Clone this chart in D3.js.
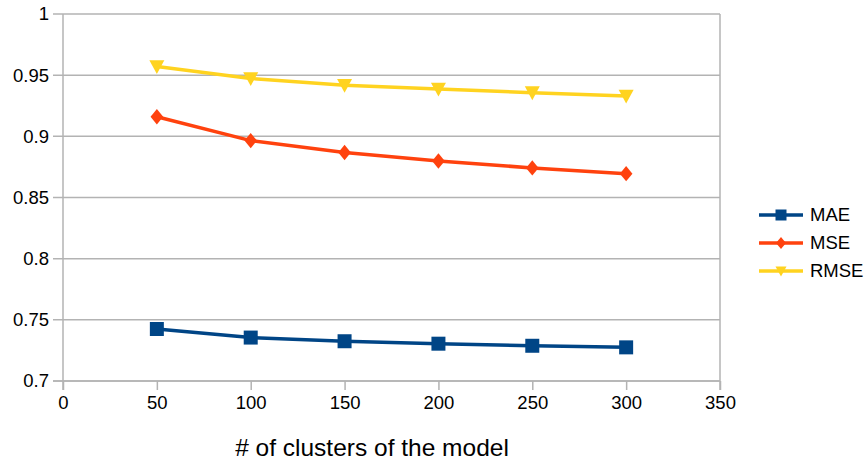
<!DOCTYPE html>
<html>
<head>
<meta charset="utf-8">
<script src="https://cdn.jsdelivr.net/npm/d3@7"></script>
<style>
  html, body { margin: 0; padding: 0; background: #fff; }
  svg text { font-family: "Liberation Sans", Arial, sans-serif; fill: #000; }
</style>
</head>
<body>
<svg id="chart" width="866" height="461"></svg>
<script>
const clusters = [50, 100, 150, 200, 250, 300];
const mae  = [0.7425, 0.7355, 0.7325, 0.7305, 0.7288, 0.7275];
const mse  = [0.9160, 0.8965, 0.8868, 0.8798, 0.8742, 0.8695];
const rmse = [0.9570, 0.9473, 0.9418, 0.9386, 0.9357, 0.9330];
const seriesNames = ["MAE", "MSE", "RMSE"];
const seriesColors = ["#004586", "#ff420e", "#ffd320"];
const seriesShapes = ["square", "diamond", "triangle"];
const xTicks = [0, 50, 100, 150, 200, 250, 300, 350];
const yTicks = [0.7, 0.75, 0.8, 0.85, 0.9, 0.95, 1];
const xTitle = "# of clusters of the model";

const svg = d3.select("#chart");
const x = d3.scaleLinear().domain([0, 350]).range([63, 720]);
const y = d3.scaleLinear().domain([0.7, 1]).range([381, 14]);
const grid = "#b3b3b3";

// horizontal gridlines
svg.append("g").selectAll("line").data(yTicks).join("line")
  .attr("x1", x(0) - 10).attr("x2", x(350))
  .attr("y1", d => y(d)).attr("y2", d => y(d))
  .attr("stroke", grid).attr("stroke-width", 1.5);

// y axis
const yAxis = d3.axisLeft(y).tickValues(yTicks).tickSize(0).tickPadding(14)
  .tickFormat(d => d3.format("~g")(d));
const gy = svg.append("g").attr("transform", `translate(${x(0)},0)`).call(yAxis);
gy.select(".domain").remove();
gy.selectAll("text").attr("font-size", 18.5).attr("fill", "#000")
  .attr("font-family", "Liberation Sans, Arial, sans-serif");

// x axis
const xAxis = d3.axisBottom(x).tickValues(xTicks).tickSize(9).tickPadding(6);
const gx = svg.append("g").attr("transform", `translate(0,${y(0.7)})`).call(xAxis);
gx.select(".domain").remove();
gx.selectAll(".tick line").attr("stroke", grid).attr("stroke-width", 1.5);
gx.selectAll("text").attr("font-size", 18.5).attr("fill", "#000")
  .attr("font-family", "Liberation Sans, Arial, sans-serif");

// plot border verticals
svg.append("line").attr("x1", x(0)).attr("x2", x(0)).attr("y1", y(1)).attr("y2", y(0.7) + 9)
  .attr("stroke", grid).attr("stroke-width", 1.5);
svg.append("line").attr("x1", x(350)).attr("x2", x(350)).attr("y1", y(1)).attr("y2", y(0.7) + 9)
  .attr("stroke", grid).attr("stroke-width", 1.5);
svg.append("line").attr("x1", x(0) - 10).attr("x2", x(350)).attr("y1", y(0.7)).attr("y2", y(0.7))
  .attr("stroke", grid).attr("stroke-width", 1.5);

function markerPath(shape, s) {
  if (shape === "square") return `M${-s/2},${-s/2}h${s}v${s}h${-s}Z`;
  if (shape === "diamond") return `M0,${-s*0.55}L${s*0.45},0L0,${s*0.55}L${-s*0.45},0Z`;
  return `M${-s/2},${-s*0.42}L${s/2},${-s*0.42}L0,${s*0.5}Z`;
}

const allSeries = [mae, mse, rmse];
const line = d3.line().x(d => x(d[0])).y(d => y(d[1]));

allSeries.forEach((vals, i) => {
  const pts = clusters.map((c, j) => [c, vals[j]]);
  svg.append("path").datum(pts).attr("d", line)
    .attr("fill", "none").attr("stroke", seriesColors[i]).attr("stroke-width", 3.5)
    .attr("stroke-linejoin", "round");
  const size = i === 0 ? 14 : (i === 1 ? 14 : 15);
  svg.append("g").selectAll("path").data(pts).join("path")
    .attr("transform", d => `translate(${x(d[0])},${y(d[1])})`)
    .attr("d", markerPath(seriesShapes[i], size))
    .attr("fill", seriesColors[i]);
});

// legend
const legY = [215, 243, 271];
seriesNames.forEach((name, i) => {
  const g = svg.append("g");
  g.append("line").attr("x1", 759).attr("x2", 803).attr("y1", legY[i]).attr("y2", legY[i])
    .attr("stroke", seriesColors[i]).attr("stroke-width", 3.5);
  g.append("path").attr("transform", `translate(781,${legY[i]})`)
    .attr("d", markerPath(seriesShapes[i], 11)).attr("fill", seriesColors[i]);
  g.append("text").attr("x", 810).attr("y", legY[i]).attr("dy", "0.35em")
    .attr("font-size", 18.5).text(name);
});

// x title
svg.append("text").attr("x", 372).attr("y", 456).attr("text-anchor", "middle")
  .attr("font-size", 24.5).text(xTitle);
</script>
</body>
</html>
